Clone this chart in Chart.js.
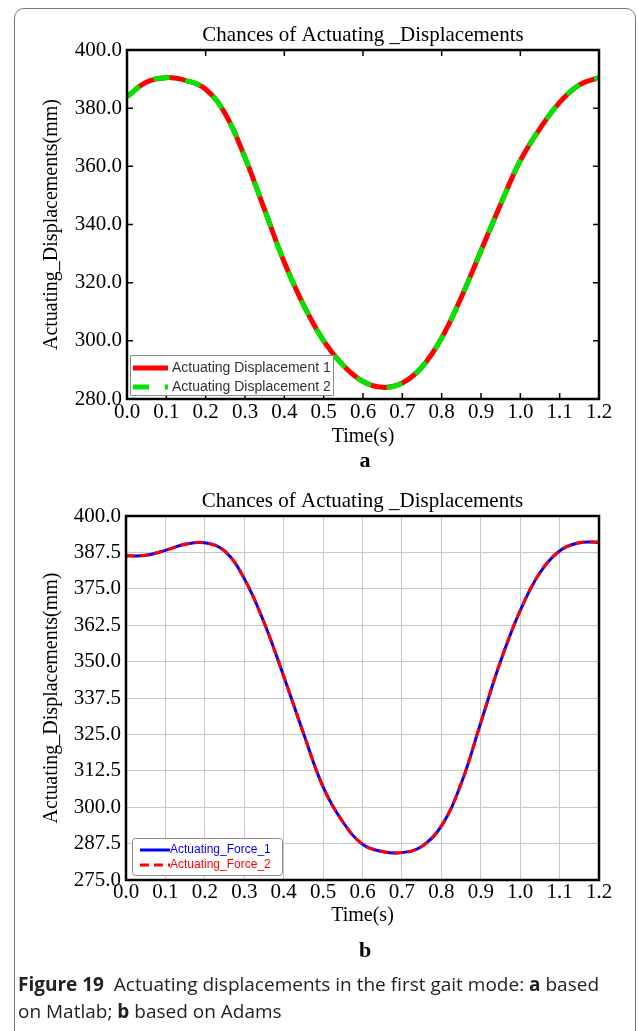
<!DOCTYPE html>
<html>
<head>
<meta charset="utf-8">
<script src="https://cdn.jsdelivr.net/npm/chart.js@4.4.1/dist/chart.umd.min.js"></script>
<style>
  body { margin: 0; background: #fff; }
  #page { position: relative; width: 638px; height: 1031px; overflow: hidden; }
  #frame { position: absolute; left: 14px; top: 8px; width: 620px; height: 1060px; border: 1px solid #777; border-radius: 10px; }
  .box { position: absolute; left: 0; width: 638px; }
  .tag { position: absolute; left: 0; width: 730px; text-align: center; font: bold 22px "Liberation Serif", serif; }
  #caption { position: absolute; left: 18px; top: 971px; width: 615px; font: 19px "Open Sans", sans-serif; line-height: 27px; color: #222; }
  #caption b { font-weight: bold; }
</style>
</head>
<body>
<div id="page">
  <div id="frame"></div>
  <div class="box" style="top:0;height:450px"><canvas id="chartA"></canvas></div>
  <div class="tag" style="top:447px">a</div>
  <div class="box" style="top:466px;height:464px"><canvas id="chartB"></canvas></div>
  <div class="tag" style="top:937px">b</div>
  <div id="caption"><b>Figure 19</b>&nbsp; Actuating displacements in the first gait mode: <b>a</b> based<br>on Matlab; <b>b</b> based on Adams</div>
</div>
<script>
// data
let times = [0, 0.05, 0.1, 0.15, 0.2, 0.25, 0.3, 0.35, 0.4, 0.45, 0.5, 0.55, 0.6,
             0.65, 0.7, 0.75, 0.8, 0.85, 0.9, 0.95, 1.0, 1.05, 1.1, 1.15, 1.2]

// figure a (Matlab)
let dispA1 = [384, 389, 390.5, 389.5, 386.5, 378, 363, 345, 327, 312, 300, 291.5, 286,
              284, 285.5, 291, 301, 315, 331, 347, 362, 373, 382, 388, 390.5]
let dispA2 = dispA1.slice()

// figure b (Adams)
let dispB1 = [386.3, 386.5, 388.2, 390.3, 390.8, 388, 378.5, 363.5, 345, 325.5, 307, 295, 287.3,
              284.8, 284.4, 286.5, 293.5, 308, 329, 350, 367.5, 380.5, 388, 390.8, 391]
let dispB2 = dispB1.slice()

let chartTitle = 'Chances of Actuating _Displacements'
let xTitle = 'Time(s)'
let yTitle = 'Actuating_Displacements(mm)'
let legendA = ['Actuating Displacement 1', 'Actuating Displacement 2']
let legendB = ['Actuating_Force_1', 'Actuating_Force_2']

let serif = '"Liberation Serif", "Times New Roman", serif'

function pts(values)
{
    return times.map((t, i) => ({ x: t, y: values[i] }))
}

// title over the plot, box round the plot, inward ticks, legend in the lower left corner
let framePlugin = {
    id: 'framePlugin',
    afterDatasetsDraw(chart, args, opts)
    {
        let ctx = chart.ctx
        let ca = chart.chartArea
        let xs = chart.scales.x, ys = chart.scales.y
        ctx.save()

        ctx.fillStyle = '#000'
        ctx.font = '21px ' + serif
        ctx.textAlign = 'center'
        ctx.textBaseline = 'middle'
        ctx.fillText(chartTitle, (ca.left + ca.right) / 2, ca.top - 15)
        ctx.textAlign = 'left'

        ctx.strokeStyle = '#000'
        ctx.lineWidth = 1.5
        if (opts.inTicks)
        {
            ctx.beginPath()
            xs.ticks.forEach(t => {
                let px = xs.getPixelForValue(t.value)
                ctx.moveTo(px, ca.bottom); ctx.lineTo(px, ca.bottom - 6)
                if (Math.round(t.value * 10) % 2 == 0)
                {
                    ctx.moveTo(px, ca.top); ctx.lineTo(px, ca.top + 6)
                }
            })
            ys.ticks.forEach(t => {
                let py = ys.getPixelForValue(t.value)
                ctx.moveTo(ca.left, py); ctx.lineTo(ca.left + 6, py)
                ctx.moveTo(ca.right, py); ctx.lineTo(ca.right - 6, py)
            })
            ctx.stroke()
        }
        ctx.lineWidth = 2.5
        ctx.strokeRect(ca.left, ca.top, ca.right - ca.left, ca.bottom - ca.top)

        // legend
        let lg = opts.legend
        let bx = ca.left + lg.dx, by = ca.bottom - lg.dy - lg.h
        ctx.fillStyle = '#fff'
        ctx.strokeStyle = '#8a8a8a'
        ctx.lineWidth = 1
        ctx.beginPath()
        ctx.roundRect(bx + 0.5, by + 0.5, lg.w, lg.h, lg.r)
        ctx.fill()
        ctx.stroke()
        ctx.font = lg.font
        ctx.textBaseline = 'middle'
        chart.data.datasets.forEach((ds, i) => {
            let ry = by + lg.rowTop + i * lg.rowGap
            ctx.strokeStyle = ds.borderColor
            ctx.lineWidth = ds.borderWidth
            ctx.setLineDash(ds.borderDash || [])
            ctx.beginPath()
            ctx.moveTo(bx + lg.sx0, ry)
            ctx.lineTo(bx + lg.sx1, ry)
            ctx.stroke()
            ctx.setLineDash([])
            ctx.fillStyle = lg.colors[i]
            ctx.fillText(ds.label, bx + lg.tx, ry)
        })
        ctx.restore()
    }
}

function makeChart(id, d1, d2, opt)
{
    return new Chart(document.getElementById(id), {
        type: 'line',
        data: {
            datasets: [
                { label: opt.labels[0], data: pts(d1), borderColor: opt.colors[0], borderWidth: opt.width,
                  pointRadius: 0, tension: 0.4, order: 1 },
                { label: opt.labels[1], data: pts(d2), borderColor: opt.colors[1], borderWidth: opt.width,
                  borderDash: opt.dash, pointRadius: 0, tension: 0.4, order: 0 }
            ]
        },
        options: {
            responsive: true,
            maintainAspectRatio: false,
            animation: false,
            layout: { padding: { left: 0, right: 39, top: 50, bottom: 0 } },
            plugins: {
                legend: { display: false },
                tooltip: { enabled: false },
                title: { display: false },
                framePlugin: { inTicks: opt.inTicks, legend: opt.legend }
            },
            scales: {
                x: {
                    type: 'linear', min: 0, max: 1.2,
                    afterFit: s => { s.height = opt.xHeight },
                    ticks: { stepSize: 0.1, color: '#000', padding: opt.xPad, maxRotation: 0,
                             font: { family: serif, size: 21 }, callback: v => v.toFixed(1) },
                    grid: { display: opt.grid, color: '#c8c8c8', lineWidth: 1, drawTicks: false },
                    border: { display: false },
                    title: { display: true, text: xTitle, color: '#000', font: { family: serif, size: 20 },
                             padding: { top: 0, bottom: opt.xTitlePad } }
                },
                y: {
                    min: opt.yMin, max: 400,
                    afterFit: s => { s.width = opt.yWidth },
                    ticks: { stepSize: opt.yStep, color: '#000', padding: 5,
                             font: { family: serif, size: 21 }, callback: v => v.toFixed(1) },
                    grid: { display: opt.grid, color: '#c8c8c8', lineWidth: 1, drawTicks: false },
                    border: { display: false },
                    title: { display: true, text: yTitle, color: '#000', font: { family: serif, size: 20 },
                             padding: { top: 40, bottom: 0 } }
                }
            }
        },
        plugins: [framePlugin]
    })
}

makeChart('chartA', dispA1, dispA2, {
    labels: legendA, colors: ['#ff0000', '#00e600'], width: 5, dash: [16, 16],
    yMin: 280, yStep: 20, grid: false, inTicks: true,
    xHeight: 51, xPad: 1, xTitlePad: 1, yWidth: 127,
    legend: { dx: 3, dy: 4, w: 203, h: 40, r: 0, rowTop: 13, rowGap: 19, sx0: 3, sx1: 38, tx: 42,
              font: '14px "Liberation Sans", Arial, sans-serif', colors: ['#333', '#333'] }
})

makeChart('chartB', dispB1, dispB2, {
    labels: legendB, colors: ['#0000ff', '#ff0000'], width: 3, dash: [9, 5],
    yMin: 275, yStep: 12.5, grid: true, inTicks: false,
    xHeight: 50, xPad: 0, xTitlePad: 2, yWidth: 126,
    legend: { dx: 6, dy: 5, w: 150, h: 37, r: 3, rowTop: 12, rowGap: 15, sx0: 8, sx1: 38, tx: 38,
              font: '12px "Liberation Sans", Arial, sans-serif', colors: ['#0000ff', '#ff0000'] }
})
</script>
</body>
</html>
